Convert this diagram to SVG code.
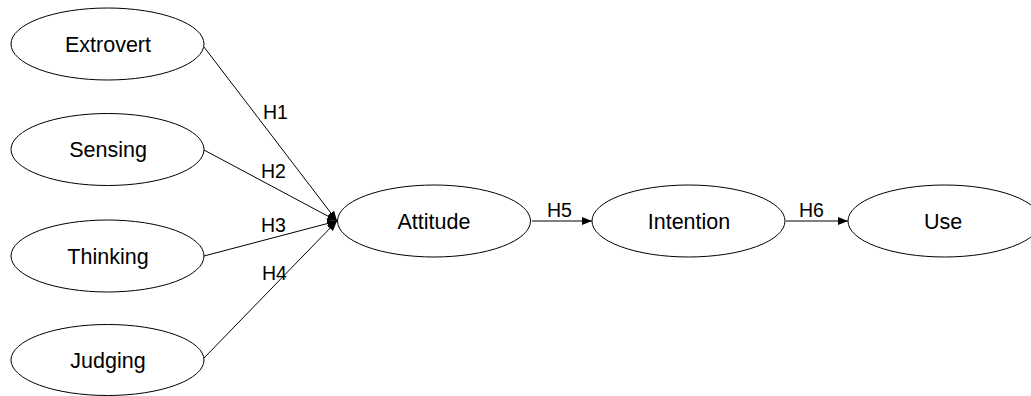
<svg xmlns="http://www.w3.org/2000/svg" width="1031" height="396" viewBox="0 0 1031 396">
<style>
.node ellipse{fill:#fff;stroke:#000;stroke-width:1}
.node text{font-family:"Liberation Sans",Arial,sans-serif;font-size:21.5px;fill:#000;text-anchor:middle}
.lbl{font-family:"Liberation Sans",Arial,sans-serif;font-size:19.5px;fill:#000}
.edge{stroke:#000;stroke-width:1;fill:none;marker-end:url(#arr)}
</style>
<defs>
<marker id="arr" markerUnits="userSpaceOnUse" markerWidth="11" markerHeight="9" refX="10" refY="4" orient="auto">
<path d="M0,0 L10,4 L0,8 z" fill="#000"/>
</marker>
</defs>
<g id="connectors">
<line class="edge" x1="204" y1="47" x2="337" y2="221"/>
<line class="edge" x1="204" y1="150" x2="337" y2="221"/>
<line class="edge" x1="204" y1="256" x2="337" y2="221"/>
<line class="edge" x1="204" y1="358" x2="337" y2="221"/>
<line class="edge" x1="532" y1="221" x2="592" y2="221"/>
<line class="edge" x1="786" y1="221" x2="848" y2="221"/>
<text class="lbl" x="263" y="118.5">H1</text>
<text class="lbl" x="261" y="178">H2</text>
<text class="lbl" x="261" y="232">H3</text>
<text class="lbl" x="262" y="280">H4</text>
<text class="lbl" x="547" y="217">H5</text>
<text class="lbl" x="799" y="217">H6</text>
</g>
<g id="extrovert" class="node"><ellipse cx="107.5" cy="44" rx="96.5" ry="36"/><text x="108" y="51.5">Extrovert</text></g>
<g id="sensing" class="node"><ellipse cx="107.5" cy="149.5" rx="96.5" ry="36"/><text x="108" y="157">Sensing</text></g>
<g id="thinking" class="node"><ellipse cx="107.5" cy="256" rx="96.5" ry="36"/><text x="108" y="263.5">Thinking</text></g>
<g id="judging" class="node"><ellipse cx="107.5" cy="360" rx="96.5" ry="35.5"/><text x="108" y="367.5">Judging</text></g>
<g id="attitude" class="node"><ellipse cx="434" cy="221" rx="96.5" ry="36"/><text x="434" y="228.5">Attitude</text></g>
<g id="intention" class="node"><ellipse cx="688.5" cy="221" rx="96.5" ry="36"/><text x="689" y="228.5">Intention</text></g>
<g id="use" class="node"><ellipse cx="944.5" cy="221" rx="96.5" ry="36"/><text x="943" y="228.5">Use</text></g>
</svg>
